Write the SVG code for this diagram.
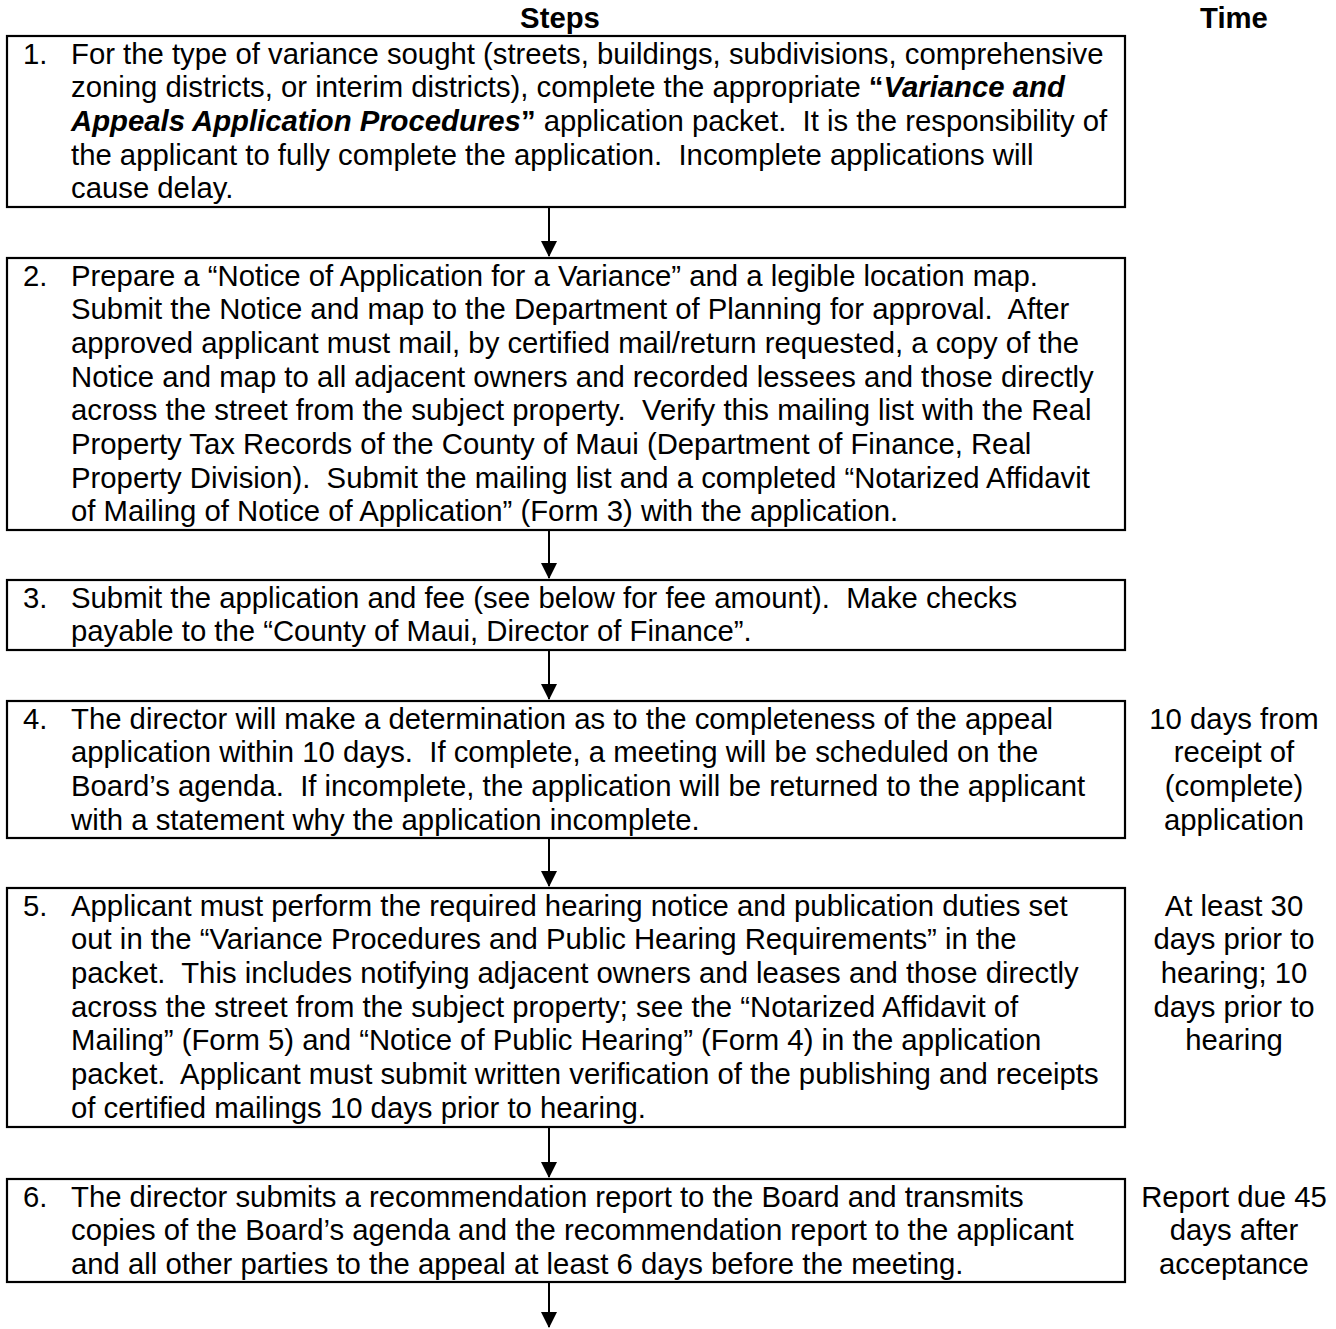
<svg xmlns="http://www.w3.org/2000/svg" width="1336" height="1329" viewBox="0 0 1336 1329">
<style>
text{font-family:"Liberation Sans",Arial,sans-serif;font-size:29.3px;fill:#000;white-space:pre}
.h{font-weight:bold}
.t{text-anchor:middle}
.b{font-weight:bold}
.bi{font-weight:bold;font-style:italic}
rect{fill:#fff;stroke:#000;stroke-width:2.2}
.c line{stroke:#000;stroke-width:2;marker-end:url(#arr)}
</style>
<defs>
<marker id="arr" viewBox="0 0 16 16" markerWidth="16" markerHeight="16" refX="15" refY="8" orient="auto" markerUnits="userSpaceOnUse">
<path d="M0,0 L16,8 L0,16 z" fill="#000"/>
</marker>
</defs>
<rect x="0" y="0" width="1336" height="1329" style="stroke:none;fill:#fff"/>
<g id="headers">
<text class="h t" x="560" y="28">Steps</text>
<text class="h t" x="1234" y="28">Time</text>
</g>
<g class="c" id="connectors">
<line x1="549" y1="207" x2="549" y2="256"/>
<line x1="549" y1="530" x2="549" y2="578"/>
<line x1="549" y1="650" x2="549" y2="699"/>
<line x1="549" y1="838" x2="549" y2="886"/>
<line x1="549" y1="1127" x2="549" y2="1177"/>
<line x1="549" y1="1282" x2="549" y2="1327"/>
</g>
<g id="step1">
<rect x="7" y="36" width="1118" height="171"/>
<text x="23" y="63.5">1.</text>
<text x="71" y="63.5">For the type of variance sought (streets, buildings, subdivisions, comprehensive</text>
<text x="71" y="97.2">zoning districts, or interim districts), complete the appropriate <tspan class="b">“</tspan><tspan class="bi">Variance and</tspan></text>
<text x="71" y="130.9"><tspan class="bi">Appeals Application Procedures</tspan><tspan class="b">”</tspan> application packet.  It is the responsibility of</text>
<text x="71" y="164.6">the applicant to fully complete the application.  Incomplete applications will</text>
<text x="71" y="198.3">cause delay.</text>
</g>
<g id="step2">
<rect x="7" y="258" width="1118" height="272"/>
<text x="23" y="285.5">2.</text>
<text x="71" y="285.5">Prepare a “Notice of Application for a Variance” and a legible location map.</text>
<text x="71" y="319.2">Submit the Notice and map to the Department of Planning for approval.  After</text>
<text x="71" y="352.9">approved applicant must mail, by certified mail/return requested, a copy of the</text>
<text x="71" y="386.6">Notice and map to all adjacent owners and recorded lessees and those directly</text>
<text x="71" y="420.3">across the street from the subject property.  Verify this mailing list with the Real</text>
<text x="71" y="454">Property Tax Records of the County of Maui (Department of Finance, Real</text>
<text x="71" y="487.7">Property Division).  Submit the mailing list and a completed “Notarized Affidavit</text>
<text x="71" y="521.4">of Mailing of Notice of Application” (Form 3) with the application.</text>
</g>
<g id="step3">
<rect x="7" y="580" width="1118" height="70"/>
<text x="23" y="607.5">3.</text>
<text x="71" y="607.5">Submit the application and fee (see below for fee amount).  Make checks</text>
<text x="71" y="641.2">payable to the “County of Maui, Director of Finance”.</text>
</g>
<g id="step4">
<rect x="7" y="701" width="1118" height="137"/>
<text x="23" y="728.5">4.</text>
<text x="71" y="728.5">The director will make a determination as to the completeness of the appeal</text>
<text x="71" y="762.2">application within 10 days.  If complete, a meeting will be scheduled on the</text>
<text x="71" y="795.9">Board’s agenda.  If incomplete, the application will be returned to the applicant</text>
<text x="71" y="829.6">with a statement why the application incomplete.</text>
<text class="t" x="1234" y="728.5">10 days from</text>
<text class="t" x="1234" y="762.2">receipt of</text>
<text class="t" x="1234" y="795.9">(complete)</text>
<text class="t" x="1234" y="829.6">application</text>
</g>
<g id="step5">
<rect x="7" y="888" width="1118" height="239"/>
<text x="23" y="915.5">5.</text>
<text x="71" y="915.5">Applicant must perform the required hearing notice and publication duties set</text>
<text x="71" y="949.2">out in the “Variance Procedures and Public Hearing Requirements” in the</text>
<text x="71" y="982.9">packet.  This includes notifying adjacent owners and leases and those directly</text>
<text x="71" y="1016.6">across the street from the subject property; see the “Notarized Affidavit of</text>
<text x="71" y="1050.3">Mailing” (Form 5) and “Notice of Public Hearing” (Form 4) in the application</text>
<text x="71" y="1084">packet.  Applicant must submit written verification of the publishing and receipts</text>
<text x="71" y="1117.7">of certified mailings 10 days prior to hearing.</text>
<text class="t" x="1234" y="915.5">At least 30</text>
<text class="t" x="1234" y="949.2">days prior to</text>
<text class="t" x="1234" y="982.9">hearing; 10</text>
<text class="t" x="1234" y="1016.6">days prior to</text>
<text class="t" x="1234" y="1050.3">hearing</text>
</g>
<g id="step6">
<rect x="7" y="1179" width="1118" height="103"/>
<text x="23" y="1206.5">6.</text>
<text x="71" y="1206.5">The director submits a recommendation report to the Board and transmits</text>
<text x="71" y="1240.2">copies of the Board’s agenda and the recommendation report to the applicant</text>
<text x="71" y="1273.9">and all other parties to the appeal at least 6 days before the meeting.</text>
<text class="t" x="1234" y="1206.5">Report due 45</text>
<text class="t" x="1234" y="1240.2">days after</text>
<text class="t" x="1234" y="1273.9">acceptance</text>
</g>
</svg>
